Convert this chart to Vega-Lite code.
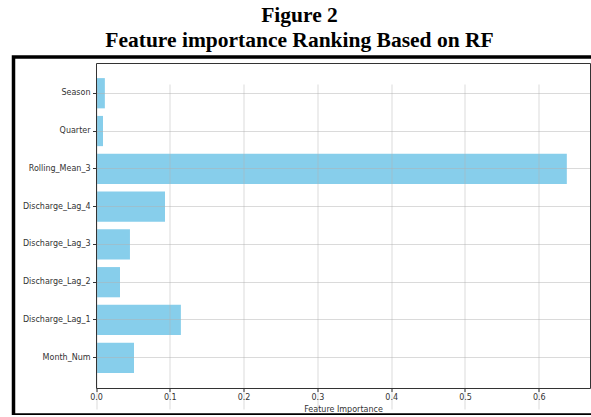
{
  "$schema": "https://vega.github.io/schema/vega-lite/v6.json",
  "width": 582,
  "height": 358,
  "autosize": {"type": "none"},
  "padding": {"left": 13.5, "top": 57, "right": 0, "bottom": 0},
  "background": "white",
  "title": {
    "text": ["Figure 2", "Feature importance Ranking Based on RF"],
    "font": "Liberation Serif",
    "fontSize": 21.5,
    "fontWeight": "bold",
    "color": "black",
    "lineHeight": 25,
    "anchor": "middle",
    "offset": 6,
    "dx": -5
  },
  "data": {
    "values": [
      {"feature": "Season", "importance": 0.012},
      {"feature": "Quarter", "importance": 0.0095},
      {"feature": "Rolling_Mean_3", "importance": 0.638},
      {"feature": "Discharge_Lag_4", "importance": 0.0935},
      {"feature": "Discharge_Lag_3", "importance": 0.046},
      {"feature": "Discharge_Lag_2", "importance": 0.0325},
      {"feature": "Discharge_Lag_1", "importance": 0.115},
      {"feature": "Month_Num", "importance": 0.0515}
    ]
  },
  "layer": [
    {
      "mark": {"type": "bar", "color": "#87CEEB"},
      "encoding": {
        "x": {
          "field": "importance",
          "type": "quantitative",
          "scale": {"domain": [0, 0.6694], "range": [82.5, 576.5], "nice": false, "zero": true},
          "axis": {
            "orient": "bottom",
            "offset": -27,
            "values": [0, 0.1, 0.2, 0.3, 0.4, 0.5, 0.6],
            "format": ".1f",
            "labelFlush": false,
            "grid": true,
            "gridColor": "#b0b0b0",
            "gridOpacity": 0.6,
            "gridWidth": 0.8,
            "domainColor": "#333333",
            "domainWidth": 1,
            "tickColor": "#333333",
            "tickSize": 3.5,
            "labelFont": "DejaVu Sans",
            "labelFontSize": 8,
            "labelColor": "#333333",
            "labelPadding": 2,
            "title": "Feature Importance",
            "titleFont": "DejaVu Sans",
            "titleFontSize": 8,
            "titleFontWeight": "normal",
            "titleColor": "#333333",
            "titlePadding": 4,
            "zindex": 1
          }
        },
        "y": {
          "field": "feature",
          "type": "nominal",
          "sort": null,
          "scale": {"type": "band", "range": [6, 331], "paddingInner": 0.2, "paddingOuter": 0.4},
          "axis": {
            "orient": "left",
            "offset": -82.5,
            "grid": true,
            "bandPosition": 0.5,
            "gridColor": "#b0b0b0",
            "gridOpacity": 0.6,
            "gridWidth": 0.8,
            "domainColor": "#333333",
            "domainWidth": 1,
            "tickColor": "#333333",
            "tickSize": 3.5,
            "labelFont": "DejaVu Sans",
            "labelFontSize": 8,
            "labelColor": "#333333",
            "labelPadding": 2.5,
            "title": null,
            "zindex": 1
          }
        }
      }
    },
    {
      "mark": {"type": "bar", "opacity": 0},
      "encoding": {
        "x": {
          "field": "importance",
          "type": "quantitative",
          "axis": {
            "orient": "top",
            "offset": -6,
            "labels": false,
            "ticks": false,
            "grid": false,
            "title": null,
            "domainColor": "#333333",
            "domainWidth": 1,
            "zindex": 1
          }
        },
        "y": {
          "field": "feature",
          "type": "nominal",
          "sort": null,
          "axis": {
            "orient": "right",
            "offset": -5.5,
            "labels": false,
            "ticks": false,
            "grid": false,
            "title": null,
            "domainColor": "#333333",
            "domainWidth": 1,
            "zindex": 1
          }
        }
      }
    }
  ],
  "resolve": {"axis": {"x": "independent", "y": "independent"}},
  "config": {
    "view": {"stroke": "black", "strokeWidth": 3.5}
  }
}
